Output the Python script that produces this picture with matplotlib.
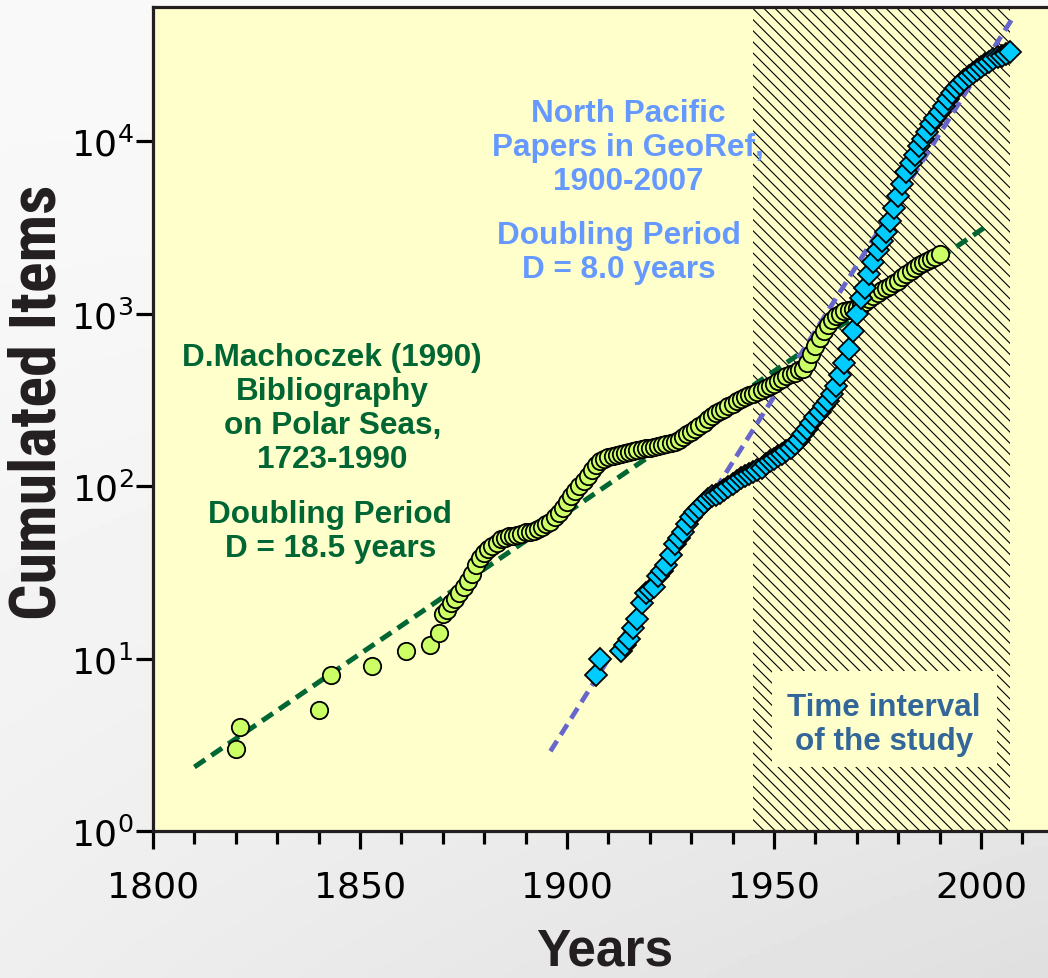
import numpy as np
import matplotlib
matplotlib.use("Agg")
import matplotlib.pyplot as plt
from matplotlib.patches import Rectangle
from matplotlib import font_manager as fm

# ---------------- data ----------------
machoczek_years = [1820, 1821, 1840, 1843, 1853, 1861, 1867, 1869] + list(range(1870, 1991))
machoczek_items = [3, 4, 5, 8, 9, 11, 12, 14,
    18, 19, 21, 22, 24, 26, 28, 31, 35, 38,          # 1870-1879
    41, 43, 45, 47, 49, 50, 51, 51, 52, 53,          # 1880-1889
    54, 54, 55, 56, 58, 60, 62, 66, 70, 75,          # 1890-1899
    81, 87, 94, 100, 107, 115, 124, 133, 140, 144,   # 1900-1909
    147, 150, 152, 154, 156, 157, 159, 161, 163, 165,  # 1910-1919
    167, 169, 171, 173, 176, 178, 181, 186, 193, 200,  # 1920-1929
    207, 214, 222, 232, 243, 254, 264, 273, 280, 290,  # 1930-1939
    300, 310, 318, 327, 335, 342, 350, 360, 370, 380,  # 1940-1949
    392, 405, 420, 432, 445, 455, 468, 480, 520, 580,  # 1950-1959
    650, 720, 790, 860, 920, 970, 1000, 1030, 1050, 1060,  # 1960-1969
    1080, 1120, 1170, 1220, 1270, 1310, 1360, 1400, 1450, 1500,  # 1970-1979
    1550, 1620, 1690, 1760, 1830, 1900, 1960, 2020, 2080, 2140,  # 1980-1989
    2200]                                              # 1990

georef_years = [1907, 1908] + list(range(1913, 2008))
georef_items = [8, 10,
    11, 12, 13, 15, 17, 21, 24,                         # 1913-1919
    25, 26, 30, 32, 35, 40, 46, 50, 54, 60,             # 1920-1929
    66, 71, 75, 80, 84, 87, 89, 91, 95, 99,             # 1930-1939
    103, 107, 111, 114, 117, 120, 124, 128, 134, 139,   # 1940-1949
    144, 149, 154, 159, 166, 175, 186, 200, 215, 232,   # 1950-1959
    250, 270, 290, 312, 340, 380, 440, 520, 620, 790,   # 1960-1969
    1000, 1230, 1400, 1700, 2000, 2350, 2650, 2950, 3450, 4100,  # 1970-1979
    4800, 5600, 6600, 7500, 8300, 9300, 10300, 11300, 12500, 13600,  # 1980-1989
    14700, 16000, 17500, 19000, 20300, 21500, 22600, 23700, 24800, 25900,  # 1990-1999
    26900, 27900, 28900, 29800, 30600, 31300, 32000, 32700]  # 2000-2007

# exponential fits (end points of the dashed lines)
machoczek_fit_years = [1810, 2001]
machoczek_fit_items = [2.35, 3170]
georef_fit_years = [1896, 2007.5]
georef_fit_items = [2.9, 51000]

study_interval = [1945, 2007]

x_ticks_major = [1800, 1850, 1900, 1950, 2000]
y_ticks = [1, 10, 100, 1000, 10000]
y_tick_labels = [r"$10^{0}$", r"$10^{1}$", r"$10^{2}$", r"$10^{3}$", r"$10^{4}$"]

# ---------------- fonts ----------------
plt.rcParams["font.family"] = ["Liberation Sans", "DejaVu Sans"]
plt.rcParams["hatch.linewidth"] = 0.8

narrow_file = None
for f in fm.fontManager.ttflist:
    bold = f.weight in (700, "bold")
    upright = f.style == "normal"
    if bold and upright and ("Narrow" in f.name or f.stretch in ("condensed", "semi-condensed")):
        narrow_file = f.fname
        if "Liberation" in f.name:
            break

W, H = 1048, 979
fig = plt.figure(figsize=(W / 100, H / 100), dpi=100)

# background gradient
bg = fig.add_axes([0, 0, 1, 1], zorder=-10)
yy, xx = np.mgrid[0:1:200j, 0:1:200j]
grad = 0.975 - 0.10 * (yy ** 1.5) * (0.4 + 0.6 * xx)
bg.imshow(grad, cmap="gray", vmin=0, vmax=1, aspect="auto", extent=[0, 1, 0, 1], origin="upper")
bg.axis("off")

DEC = 172.5  # px per decade
def yv(py):
    return 10 ** ((832 - py) / DEC)

left, bottom = 153 / W, (H - 832) / H
right_px = 153 + 220 * 4.14
ax = fig.add_axes([left, bottom, (right_px - 153) / W, (832 - 8) / H])
ax.set_facecolor("#ffffcc")
ax.set_yscale("log")
ax.set_xlim(1800, 2020)
ax.set_ylim(1, 10 ** 4.777)

# hatched study interval
ax.add_patch(Rectangle((study_interval[0], 1), study_interval[1] - study_interval[0], 10 ** 4.777,
                       facecolor="none", edgecolor="black", hatch="\\\\\\", linewidth=0, zorder=1))
# label box covering hatch
ax.add_patch(Rectangle((1949.5, yv(768)), 2003.9 - 1949.5, yv(672) - yv(768),
                       facecolor="#ffffcc", edgecolor="none", zorder=1.5))
ax.text(1976.5, yv(750), "Time interval\nof the study", ha="center", va="baseline",
        color="#336699", fontsize=22.6, fontweight="bold", linespacing=1.18, zorder=6)

# dashed fits
ax.plot(machoczek_fit_years, machoczek_fit_items, color="#006633", lw=3.6,
        dashes=(2.6, 1.5), zorder=3, dash_capstyle="butt")
ax.plot(georef_fit_years, georef_fit_items, color="#6666cc", lw=3.4,
        dashes=(2.6, 1.5), zorder=3, dash_capstyle="butt")

# data
ax.plot(machoczek_years, machoczek_items, linestyle="none", marker="o", ms=12.5,
        mfc="#ccff66", mec="black", mew=1.3, zorder=4)
ax.plot(georef_years, georef_items, linestyle="none", marker="D", ms=11,
        mfc="#00ccff", mec="black", mew=1.3, zorder=5)

# annotations (va=baseline refers to the last line)
kw = dict(ha="center", va="baseline", fontsize=22.7, fontweight="bold",
          linespacing=1.18, zorder=6, multialignment="center")
ax.text(1843.3, yv(468), "D.Machoczek (1990)\nBibliography\non Polar Seas,\n1723-1990",
        color="#006633", **kw)
ax.text(1842.8, yv(557), "Doubling Period\nD = 18.5 years", color="#006633", **kw)
ax.text(1914.8, yv(190), "North Pacific\nPapers in GeoRef,\n1900-2007", color="#6699ff", **kw)
ax.text(1912.6, yv(278), "Doubling Period\nD = 8.0 years", color="#6699ff", **kw)

# axes styling
for side in ["left", "bottom", "top", "right"]:
    ax.spines[side].set_linewidth(2.3)
    ax.spines[side].set_color("#231f20")
ax.set_xticks(x_ticks_major)
ax.set_xticks(range(1800, 2021, 10), minor=True)
ax.set_yticks(y_ticks)
ax.set_yticklabels(y_tick_labels)
ax.yaxis.set_minor_locator(matplotlib.ticker.NullLocator())
ax.tick_params(axis="x", which="major", length=13, width=2.3, direction="out", pad=15,
               labelsize=26, color="black")
ax.tick_params(axis="x", which="minor", length=9.5, width=2.3, direction="out", color="black")
ax.tick_params(axis="y", which="major", length=12, width=2.3, direction="out", pad=2,
               labelsize=26, color="black")
for lab in ax.get_xticklabels() + ax.get_yticklabels():
    lab.set_fontfamily("DejaVu Sans")

if narrow_file:
    ylab = fig.text(38 / W, 1 - 402 / H, "Cumulated Items", rotation=90, ha="center", va="center",
                    fontproperties=fm.FontProperties(fname=narrow_file, size=46),
                    color="#231f20")
else:
    ylab = fig.text(38 / W, 1 - 402 / H, "Cumulated Items", rotation=90, ha="center", va="center",
                    fontsize=40, fontweight="bold", color="#231f20")
# fit the label length to the reference (about 435 px)
fig.canvas.draw()
ext = ylab.get_window_extent()
ylab.set_fontsize(ylab.get_fontsize() * 435.0 / ext.height)

fig.text(605 / W, 1 - 966 / H, "Years", ha="center", va="baseline",
         fontsize=37, fontweight="bold", color="#231f20")

fig.savefig("out.png", dpi=100)
